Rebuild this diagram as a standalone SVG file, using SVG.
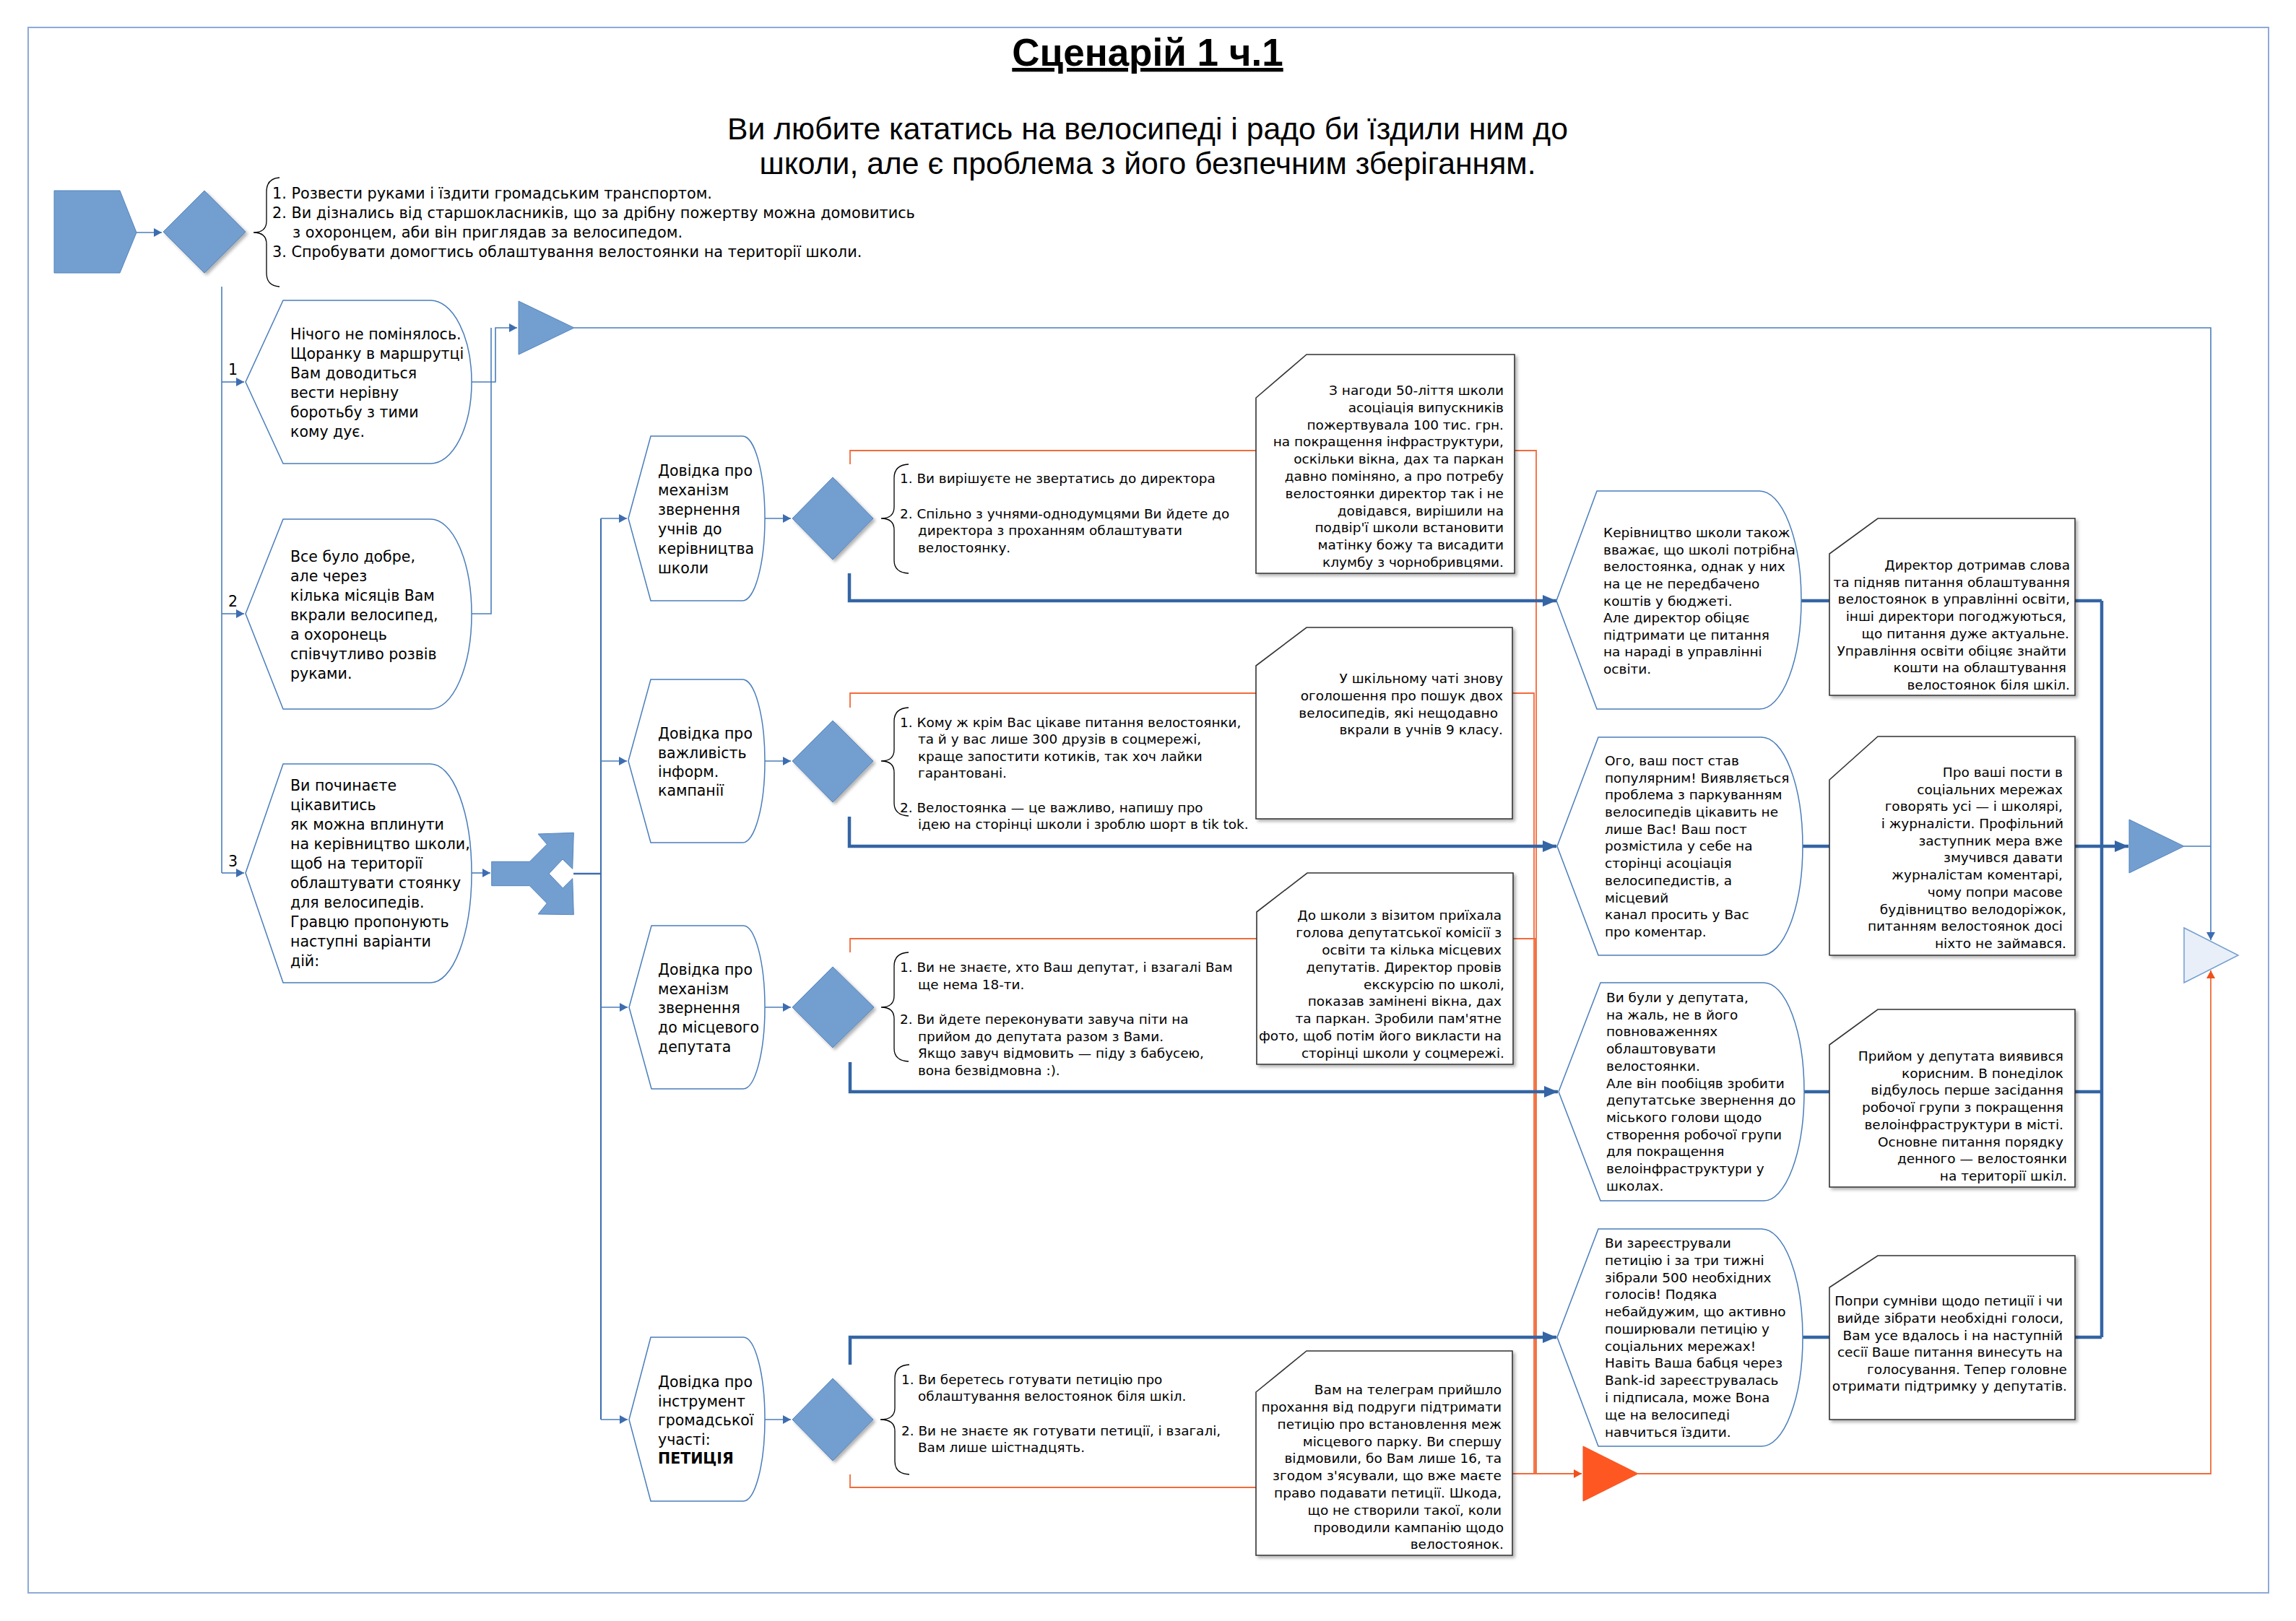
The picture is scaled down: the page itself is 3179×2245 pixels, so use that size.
<svg xmlns="http://www.w3.org/2000/svg" width="3179" height="2245" viewBox="0 0 3179 2245">
<defs>
<style>
.t{font-family:"DejaVu Sans",sans-serif;fill:#000}
.nt{font-size:20.5px}
.tl{font-size:20.8px}
.bt{font-size:18.5px}
.lt{font-size:18.4px}
.node{fill:#fff;stroke:#4a7ebb;stroke-width:1.5}
.shape{fill:#729fcf;stroke:#5584c0;stroke-width:1}
.box{fill:#fff;stroke:#333;stroke-width:1.6}
.thin{fill:none;stroke:#4a7ebb;stroke-width:1.6}
.mid{fill:none;stroke:#3d6db0;stroke-width:2.5}
.thick{fill:none;stroke:#3465a4;stroke-width:4.5}
.or{fill:none;stroke:#f26b3a;stroke-width:1.8}
.brace{fill:none;stroke:#000;stroke-width:1.3}
</style>
<marker id="aThin" markerUnits="userSpaceOnUse" markerWidth="12" markerHeight="12" refX="11" refY="6" orient="auto"><path d="M0,0 L11,6 L0,12 Z" fill="#3d6db0"/></marker>
<marker id="aThick" markerUnits="userSpaceOnUse" markerWidth="20" markerHeight="16" refX="19" refY="8" orient="auto"><path d="M0,0 L19,8 L0,16 Z" fill="#3465a4"/></marker>
<marker id="aOr" markerUnits="userSpaceOnUse" markerWidth="12" markerHeight="12" refX="11" refY="6" orient="auto"><path d="M0,0 L11,6 L0,12 Z" fill="#f0501a"/></marker>
<filter id="sh" x="-10%" y="-10%" width="130%" height="130%"><feDropShadow dx="3" dy="3" stdDeviation="2" flood-color="#000" flood-opacity="0.3"/></filter>
</defs>
<rect x="0" y="0" width="3179" height="2245" fill="#fff"/>
<rect x="39" y="38" width="3102" height="2168" fill="none" stroke="#8eaad8" stroke-width="2"/>

<g id="header">
<text class="t" x="1589" y="91" text-anchor="middle" style="font-family:'Liberation Sans',Arial,sans-serif;font-size:53px;font-weight:bold;text-decoration:underline">Сценарій 1 ч.1</text>
<text class="t" x="1589" y="193" text-anchor="middle" style="font-family:'Liberation Sans',Arial,sans-serif;font-size:42.7px">Ви любите кататись на велосипеді і радо би їздили ним до</text>
<text class="t" x="1589" y="241" text-anchor="middle" style="font-family:'Liberation Sans',Arial,sans-serif;font-size:42.7px">школи, але є проблема з його безпечним зберіганням.</text>
</g>

<g id="connectors">
<path class="thin" d="M189,322 H224" marker-end="url(#aThin)"/>
<path class="thin" d="M307,397 V1209"/>
<path class="thin" d="M307,529 H338" marker-end="url(#aThin)"/>
<path class="thin" d="M307,850 H338" marker-end="url(#aThin)"/>
<path class="thin" d="M307,1209 H338" marker-end="url(#aThin)"/>
<text class="t nt" x="316" y="519">1</text>
<text class="t nt" x="316" y="840">2</text>
<text class="t nt" x="316" y="1200">3</text>
<path class="thin" d="M653,850 H680 V454"/>
<path class="thin" d="M653,529 H686 V454 H716" marker-end="url(#aThin)"/>
<path class="thin" d="M795,454 H3061 V1302" marker-end="url(#aThin)"/>
<path class="thin" d="M653,1209 H679" marker-end="url(#aThin)"/>
<path class="mid" d="M794,1210 H832"/>
<path class="mid" d="M832,718 V1966" style="stroke-width:2"/>
<path class="thin" d="M832,718 H868" marker-end="url(#aThin)"/>
<path class="thin" d="M832,1054 H868" marker-end="url(#aThin)"/>
<path class="thin" d="M832,1395 H869" marker-end="url(#aThin)"/>
<path class="thin" d="M832,1966 H869" marker-end="url(#aThin)"/>
<path class="thin" d="M1059,718 H1095" marker-end="url(#aThin)"/>
<path class="thin" d="M1059,1054 H1095" marker-end="url(#aThin)"/>
<path class="thin" d="M1058,1395 H1095" marker-end="url(#aThin)"/>
<path class="thin" d="M1059,1966 H1095" marker-end="url(#aThin)"/>
<path class="or" d="M1177,643 V624 H2127 V2041"/>
<path class="or" d="M1177,980 V960 H2124 V2041"/>
<path class="or" d="M1177,1319 V1300 H2126 V2041"/>
<path class="or" d="M1177,2042 V2060 H2080 V2041 H2190" marker-end="url(#aOr)"/>
<path class="or" d="M2268,2041 H3061 V1344" marker-end="url(#aOr)"/>
<path class="thick" d="M1176,794 V832 H2155" marker-end="url(#aThick)"/>
<path class="thick" d="M1176,1131 V1172 H2155" marker-end="url(#aThick)"/>
<path class="thick" d="M1177,1471 V1512 H2157" marker-end="url(#aThick)"/>
<path class="thick" d="M1177,1890 V1852 H2155" marker-end="url(#aThick)"/>
<path class="thick" d="M2494,832 H2533"/>
<path class="thick" d="M2496,1172 H2533"/>
<path class="thick" d="M2498,1512 H2533"/>
<path class="thick" d="M2496,1852 H2533"/>
<path class="thick" d="M2873,832 H2910 M2873,1512 H2910 M2873,1852 H2910 M2910,832 V1852"/>
<path class="thick" d="M2873,1172 H2947" marker-end="url(#aThick)"/>
<path class="thin" d="M3024,1172 H3061"/>
</g>

<g id="start">
<polygon class="shape" points="75,264 166,264 189,322 166,378 75,378"/>
</g>
<g id="decision0">
<polygon class="shape" points="283,264 340,321 283,378 226,321" filter="url(#sh)"/>
</g>
<g id="options0">
<path class="brace" d="M387,246 Q369,247 369,266 L369,306 Q369,322 351,322 Q369,322 369,338 L369,378 Q369,396 387,397"/>
<text class="t tl" x="377" y="275">1. Розвести руками і їздити громадським транспортом.</text>
<text class="t tl" x="377" y="302">2. Ви дізнались від старшокласників, що за дрібну пожертву можна домовитись</text>
<text class="t tl" x="405" y="329">з охоронцем, аби він приглядав за велосипедом.</text>
<text class="t tl" x="377" y="356">3. Спробувати домогтись облаштування велостоянки на території школи.</text>
</g>

<g id="node1">
<path class="node" d="M340,529 L392,416 L596,416 A57 113 0 0 1 596,642 L392,642 Z"/>
<text class="t nt"><tspan x="402" y="470">Нічого не помінялось.</tspan><tspan x="402" y="497">Щоранку в маршрутці</tspan><tspan x="402" y="524">Вам доводиться</tspan><tspan x="402" y="551">вести нерівну</tspan><tspan x="402" y="578">боротьбу з тими</tspan><tspan x="402" y="605">кому дує.</tspan></text>
</g>
<g id="node2">
<path class="node" d="M340,850 L392,719 L596,719 A57 131.5 0 0 1 596,982 L392,982 Z"/>
<text class="t nt"><tspan x="402" y="778">Все було добре,</tspan><tspan x="402" y="805">але через</tspan><tspan x="402" y="832">кілька місяців Вам</tspan><tspan x="402" y="859">вкрали велосипед,</tspan><tspan x="402" y="886">а охоронець</tspan><tspan x="402" y="913">співчутливо розвів</tspan><tspan x="402" y="940">руками.</tspan></text>
</g>
<g id="node3">
<path class="node" d="M340,1209 L392,1058 L596,1058 A57 151.5 0 0 1 596,1361 L392,1361 Z"/>
<text class="t nt"><tspan x="402" y="1095">Ви починаєте</tspan><tspan x="402" y="1122">цікавитись</tspan><tspan x="402" y="1149">як можна вплинути</tspan><tspan x="402" y="1176">на керівництво школи,</tspan><tspan x="402" y="1203">щоб на території</tspan><tspan x="402" y="1230">облаштувати стоянку</tspan><tspan x="402" y="1257">для велосипедів.</tspan><tspan x="402" y="1284">Гравцю пропонують</tspan><tspan x="402" y="1311">наступні варіанти</tspan><tspan x="402" y="1338">дій:</tspan></text>
</g>

<g id="merge1">
<polygon class="shape" points="718,417 795,454 718,491"/>
</g>
<g id="split">
<polygon class="shape" points="680.7,1193.3 733.3,1193.3 757.3,1169.3 745,1155 794.3,1153.3 792.7,1203.3 779,1190 760,1210 779.3,1230 792.7,1216.7 794.3,1266.7 745,1266 757.3,1251 733.3,1226.7 680.7,1226.7"/>
</g>

<g id="m1">
<path class="node" d="M870,718 L901,604 L1028,604 A31 114 0 0 1 1028,832 L901,832 Z"/>
<text class="t nt"><tspan x="911" y="659">Довідка про</tspan><tspan x="911" y="686">механізм</tspan><tspan x="911" y="713">звернення</tspan><tspan x="911" y="740">учнів до</tspan><tspan x="911" y="767">керівництва</tspan><tspan x="911" y="794">школи</tspan></text>
</g>
<g id="m2">
<path class="node" d="M870,1054 L901,941 L1028,941 A31 113 0 0 1 1028,1167 L901,1167 Z"/>
<text class="t nt"><tspan x="911" y="1023">Довідка про</tspan><tspan x="911" y="1050">важливість</tspan><tspan x="911" y="1076">інформ.</tspan><tspan x="911" y="1102">кампанії</tspan></text>
</g>
<g id="m3">
<path class="node" d="M871,1395 L902,1282 L1029,1282 A30 113 0 0 1 1029,1508 L902,1508 Z"/>
<text class="t nt"><tspan x="911" y="1350">Довідка про</tspan><tspan x="911" y="1377">механізм</tspan><tspan x="911" y="1403">звернення</tspan><tspan x="911" y="1430">до місцевого</tspan><tspan x="911" y="1457">депутата</tspan></text>
</g>
<g id="m4">
<path class="node" d="M871,1966 L901,1852 L1029,1852 A30 113.5 0 0 1 1029,2079 L901,2079 Z"/>
<text class="t nt"><tspan x="911" y="1921">Довідка про</tspan><tspan x="911" y="1948">інструмент</tspan><tspan x="911" y="1974">громадської</tspan><tspan x="911" y="2001">участі:</tspan><tspan x="911" y="2027" font-weight="bold">ПЕТИЦІЯ</tspan></text>
</g>

<g id="d1"><polygon class="shape" points="1153,661 1209,718 1153,775 1097,718" filter="url(#sh)"/></g>
<g id="d2"><polygon class="shape" points="1153,998 1209,1054 1153,1111 1097,1054" filter="url(#sh)"/></g>
<g id="d3"><polygon class="shape" points="1153,1339 1210,1395 1153,1451 1097,1395" filter="url(#sh)"/></g>
<g id="d4"><polygon class="shape" points="1153,1909 1209,1966 1153,2023 1097,1966" filter="url(#sh)"/></g>

<g id="opt1">
<path class="brace" d="M1258,643 Q1238,644 1238,662 L1238,702 Q1238,718 1220,718 Q1238,718 1238,734 L1238,776 Q1238,793 1258,794"/>
<text class="t lt"><tspan x="1246" y="669">1. Ви вирішуєте не звертатись до директора</tspan><tspan x="1246" y="718">2. Спільно з учнями-однодумцями Ви йдете до</tspan><tspan x="1271" y="741">директора з проханням облаштувати</tspan><tspan x="1271" y="765">велостоянку.</tspan></text>
</g>
<g id="opt2">
<path class="brace" d="M1258,980 Q1238,981 1238,999 L1238,1038 Q1238,1054 1220,1054 Q1238,1054 1238,1070 L1238,1112 Q1238,1129 1258,1130"/>
<text class="t lt"><tspan x="1246" y="1007">1. Кому ж крім Вас цікаве питання велостоянки,</tspan><tspan x="1271" y="1030">та й у вас лише 300 друзів в соцмережі,</tspan><tspan x="1271" y="1054">краще запостити котиків, так хоч лайки</tspan><tspan x="1271" y="1077">гарантовані.</tspan><tspan x="1246" y="1125">2. Велостоянка — це важливо, напишу про</tspan><tspan x="1271" y="1148">ідею на сторінці школи і зроблю шорт в tik tok.</tspan></text>
</g>
<g id="opt3">
<path class="brace" d="M1258,1319 Q1238,1320 1238,1338 L1238,1379 Q1238,1395 1220,1395 Q1238,1395 1238,1411 L1238,1452 Q1238,1469 1258,1470"/>
<text class="t lt"><tspan x="1246" y="1346">1. Ви не знаєте, хто Ваш депутат, і взагалі Вам</tspan><tspan x="1271" y="1370">ще нема 18-ти.</tspan><tspan x="1246" y="1418">2. Ви йдете переконувати завуча піти на</tspan><tspan x="1271" y="1442">прийом до депутата разом з Вами.</tspan><tspan x="1271" y="1465">Якщо завуч відмовить — піду з бабусею,</tspan><tspan x="1271" y="1489">вона безвідмовна :).</tspan></text>
</g>
<g id="opt4">
<path class="brace" d="M1259,1890 Q1239,1891 1239,1909 L1239,1950 Q1239,1966 1219,1966 Q1239,1966 1239,1982 L1239,2024 Q1239,2041 1259,2042"/>
<text class="t lt"><tspan x="1248" y="1917">1. Ви беретесь готувати петицію про</tspan><tspan x="1271" y="1940">облаштування велостоянок біля шкіл.</tspan><tspan x="1248" y="1988">2. Ви не знаєте як готувати петиції, і взагалі,</tspan><tspan x="1271" y="2011">Вам лише шістнадцять.</tspan></text>
</g>

<g id="c1">
<path class="box" d="M1739,551 L1809,491 H2097 V794 H1739 Z" filter="url(#sh)"/>
<text class="t bt" text-anchor="end"><tspan x="2082" y="547">З нагоди 50-ліття школи</tspan><tspan x="2082" y="571">асоціація випускників</tspan><tspan x="2082" y="595">пожертвувала 100 тис. грн.</tspan><tspan x="2082" y="618">на покращення інфраструктури,</tspan><tspan x="2082" y="642">оскільки вікна, дах та паркан</tspan><tspan x="2082" y="666">давно поміняно, а про потребу</tspan><tspan x="2082" y="690">велостоянки директор так і не</tspan><tspan x="2082" y="714">довідався, вирішили на</tspan><tspan x="2082" y="737">подвір'ї школи встановити</tspan><tspan x="2082" y="761">матінку божу та висадити</tspan><tspan x="2082" y="785">клумбу з чорнобривцями.</tspan></text>
</g>
<g id="c2">
<path class="box" d="M1739,922 L1809,869 H2094 V1134 H1739 Z" filter="url(#sh)"/>
<text class="t bt" text-anchor="end"><tspan x="2081" y="946">У шкільному чаті знову</tspan><tspan x="2081" y="970">оголошення про пошук двох</tspan><tspan x="2074" y="994">велосипедів, які нещодавно</tspan><tspan x="2081" y="1017">вкрали в учнів 9 класу.</tspan></text>
</g>
<g id="c3">
<path class="box" d="M1740,1263 L1810,1209 H2095 V1474 H1740 Z" filter="url(#sh)"/>
<text class="t bt" text-anchor="end"><tspan x="2079" y="1274">До школи з візитом приїхала</tspan><tspan x="2079" y="1298">голова депутатської комісії з</tspan><tspan x="2079" y="1322">освіти та кілька місцевих</tspan><tspan x="2079" y="1346">депутатів. Директор провів</tspan><tspan x="2083" y="1370">екскурсію по школі,</tspan><tspan x="2079" y="1393">показав замінені вікна, дах</tspan><tspan x="2079" y="1417">та паркан. Зробили пам'ятне</tspan><tspan x="2079" y="1441">фото, щоб потім його викласти на</tspan><tspan x="2083" y="1465">сторінці школи у соцмережі.</tspan></text>
</g>
<g id="c4">
<path class="box" d="M1739,1928 L1809,1871 H2094 V2154 H1739 Z" filter="url(#sh)"/>
<text class="t bt" text-anchor="end"><tspan x="2079" y="1931">Вам на телеграм прийшло</tspan><tspan x="2079" y="1955">прохання від подруги підтримати</tspan><tspan x="2079" y="1979">петицію про встановлення меж</tspan><tspan x="2079" y="2003">місцевого парку. Ви спершу</tspan><tspan x="2079" y="2026">відмовили, бо Вам лише 16, та</tspan><tspan x="2079" y="2050">згодом з'ясували, що вже маєте</tspan><tspan x="2079" y="2074">право подавати петиції. Шкода,</tspan><tspan x="2079" y="2098">що не створили такої, коли</tspan><tspan x="2082" y="2122">проводили кампанію щодо</tspan><tspan x="2082" y="2145">велостоянок.</tspan></text>
</g>

<g id="r1">
<path class="node" d="M2155,832 L2211,680 L2436,680 A58 151 0 0 1 2436,982 L2211,982 Z"/>
<text class="t bt"><tspan x="2220" y="744">Керівництво школи також</tspan><tspan x="2220" y="768">вважає, що школі потрібна</tspan><tspan x="2220" y="791">велостоянка, однак у них</tspan><tspan x="2220" y="815">на це не передбачено</tspan><tspan x="2220" y="839">коштів у бюджеті.</tspan><tspan x="2220" y="862">Але директор обіцяє</tspan><tspan x="2220" y="886">підтримати це питання</tspan><tspan x="2220" y="909">на нараді в управлінні</tspan><tspan x="2220" y="933">освіти.</tspan></text>
</g>
<g id="r2">
<path class="node" d="M2156,1172 L2213,1021 L2439,1021 A57 151 0 0 1 2439,1323 L2213,1323 Z"/>
<text class="t bt"><tspan x="2222" y="1060">Ого, ваш пост став</tspan><tspan x="2222" y="1084">популярним! Виявляється</tspan><tspan x="2222" y="1107">проблема з паркуванням</tspan><tspan x="2222" y="1131">велосипедів цікавить не</tspan><tspan x="2222" y="1155">лише Вас! Ваш пост</tspan><tspan x="2222" y="1178">розмістила у себе на</tspan><tspan x="2222" y="1202">сторінці асоціація</tspan><tspan x="2222" y="1226">велосипедистів, а</tspan><tspan x="2222" y="1250">місцевий</tspan><tspan x="2222" y="1273">канал просить у Вас</tspan><tspan x="2222" y="1297">про коментар.</tspan></text>
</g>
<g id="r3">
<path class="node" d="M2158,1512 L2216,1361 L2442,1361 A56 151 0 0 1 2442,1663 L2216,1663 Z"/>
<text class="t bt"><tspan x="2224" y="1388">Ви були у депутата,</tspan><tspan x="2224" y="1412">на жаль, не в його</tspan><tspan x="2224" y="1435">повноваженнях</tspan><tspan x="2224" y="1459">облаштовувати</tspan><tspan x="2224" y="1483">велостоянки.</tspan><tspan x="2224" y="1507">Але він пообіцяв зробити</tspan><tspan x="2224" y="1530">депутатське звернення до</tspan><tspan x="2224" y="1554">міського голови щодо</tspan><tspan x="2224" y="1578">створення робочої групи</tspan><tspan x="2224" y="1601">для покращення</tspan><tspan x="2224" y="1625">велоінфраструктури у</tspan><tspan x="2224" y="1649">школах.</tspan></text>
</g>
<g id="r4">
<path class="node" d="M2156,1852 L2213,1702 L2439,1702 A57 150.5 0 0 1 2439,2003 L2213,2003 Z"/>
<text class="t bt"><tspan x="2222" y="1728">Ви зареєстрували</tspan><tspan x="2222" y="1752">петицію і за три тижні</tspan><tspan x="2222" y="1776">зібрали 500 необхідних</tspan><tspan x="2222" y="1799">голосів! Подяка</tspan><tspan x="2222" y="1823">небайдужим, що активно</tspan><tspan x="2222" y="1847">поширювали петицію у</tspan><tspan x="2222" y="1871">соціальних мережах!</tspan><tspan x="2222" y="1894">Навіть Ваша бабця через</tspan><tspan x="2222" y="1918">Bank-id зареєструвалась</tspan><tspan x="2222" y="1942">і підписала, може Вона</tspan><tspan x="2222" y="1966">ще на велосипеді</tspan><tspan x="2222" y="1990">навчиться їздити.</tspan></text>
</g>

<g id="b1">
<path class="box" d="M2533,767 L2600,718 H2873 V963 H2533 Z" filter="url(#sh)"/>
<text class="t bt" text-anchor="end"><tspan x="2866" y="789">Директор дотримав слова</tspan><tspan x="2866" y="813">та підняв питання облаштування</tspan><tspan x="2866" y="836">велостоянок в управлінні освіти,</tspan><tspan x="2861" y="860">інші директори погоджуються,</tspan><tspan x="2865" y="884">що питання дуже актуальне.</tspan><tspan x="2861" y="908">Управління освіти обіцяє знайти</tspan><tspan x="2861" y="931">кошти на облаштування</tspan><tspan x="2866" y="955">велостоянок біля шкіл.</tspan></text>
</g>
<g id="b2">
<path class="box" d="M2533,1080 L2600,1020 H2873 V1323 H2533 Z" filter="url(#sh)"/>
<text class="t bt" text-anchor="end"><tspan x="2856" y="1076">Про ваші пости в</tspan><tspan x="2856" y="1100">соціальних мережах</tspan><tspan x="2856" y="1123">говорять усі — і школярі,</tspan><tspan x="2857" y="1147">і журналісти. Профільний</tspan><tspan x="2856" y="1171">заступник мера вже</tspan><tspan x="2856" y="1194">змучився давати</tspan><tspan x="2856" y="1218">журналістам коментарі,</tspan><tspan x="2856" y="1242">чому попри масове</tspan><tspan x="2861" y="1266">будівництво велодоріжок,</tspan><tspan x="2856" y="1289">питанням велостоянок досі</tspan><tspan x="2861" y="1313">ніхто не займався.</tspan></text>
</g>
<g id="b3">
<path class="box" d="M2533,1447 L2600,1398 H2873 V1644 H2533 Z" filter="url(#sh)"/>
<text class="t bt" text-anchor="end"><tspan x="2857" y="1469">Прийом у депутата виявився</tspan><tspan x="2857" y="1493">корисним. В понеділок</tspan><tspan x="2857" y="1516">відбулось перше засідання</tspan><tspan x="2857" y="1540">робочої групи з покращення</tspan><tspan x="2857" y="1564">велоінфраструктури в місті.</tspan><tspan x="2857" y="1588">Основне питання порядку</tspan><tspan x="2862" y="1611">денного — велостоянки</tspan><tspan x="2862" y="1635">на території шкіл.</tspan></text>
</g>
<g id="b4">
<path class="box" d="M2533,1783 L2600,1739 H2873 V1966 H2533 Z" filter="url(#sh)"/>
<text class="t bt" text-anchor="end"><tspan x="2856" y="1808">Попри сумніви щодо петиції і чи</tspan><tspan x="2857" y="1832">вийде зібрати необхідні голоси,</tspan><tspan x="2856" y="1856">Вам усе вдалось і на наступній</tspan><tspan x="2856" y="1879">сесії Ваше питання винесуть на</tspan><tspan x="2862" y="1903">голосування. Тепер головне</tspan><tspan x="2862" y="1926">отримати підтримку у депутатів.</tspan></text>
</g>

<g id="merge2"><polygon class="shape" points="2948,1135 3024,1172 2948,1209"/></g>
<g id="merge3"><polygon points="2192,2003 2268,2041 2192,2079" fill="#ff5722" stroke="#f4511e" stroke-width="1"/></g>
<g id="end"><polygon points="3024,1285 3099,1323 3024,1361" fill="#e8eff8" stroke="#729fcf" stroke-width="1.5"/></g>
</svg>
